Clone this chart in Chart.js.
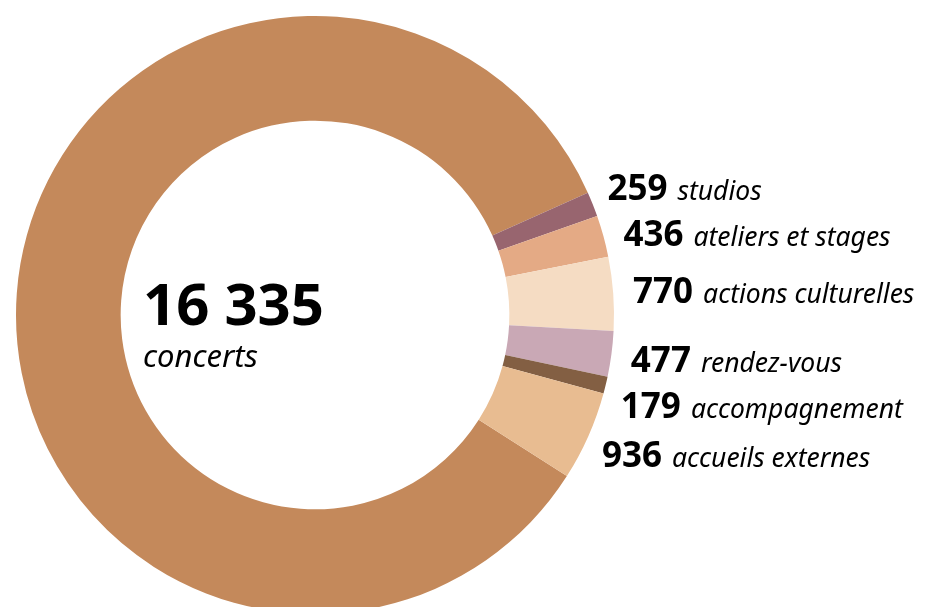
<!DOCTYPE html>
<html>
<head>
<meta charset="utf-8">
<script src="https://cdn.jsdelivr.net/npm/chart.js@4.4.1/dist/chart.umd.min.js"></script>
<style>
  html, body { margin: 0; padding: 0; background: #fff; overflow: hidden; }
  #wrap { position: relative; width: 926px; height: 630px; }
</style>
</head>
<body>
<div id="wrap"><canvas id="donut" width="926" height="630"></canvas></div>
<script>
// les données du graphique
const categories = ['concerts', 'studios', 'ateliers et stages', 'actions culturelles', 'rendez-vous', 'accompagnement', 'accueils externes'];
const values = [16335, 259, 436, 770, 477, 179, 936];
const valueLabels = ['16 335', '259', '436', '770', '477', '179', '936'];
const sliceColors = ['#c4895b', '#98656f', '#e4aa85', '#f5dcc3', '#c9a8b5', '#835f43', '#e8bc91'];

const FONT = '"Noto Sans", sans-serif';

// labels dehors + texte au centre
const sliceLabels = {
    id: 'sliceLabels',
    afterDraw(chart) {
        const ctx = chart.ctx;
        const arcs = chart.getDatasetMeta(0).data;
        const cx = arcs[0].x, cy = arcs[0].y, r = arcs[0].outerRadius;

        ctx.save();
        ctx.fillStyle = '#000';
        ctx.textAlign = 'left';
        ctx.textBaseline = 'alphabetic';

        // centre : concerts
        ctx.font = 'bold 58px ' + FONT;
        ctx.fillText(valueLabels[0], cx - 172, cy + 10);
        ctx.font = 'italic 31px ' + FONT;
        ctx.fillText(categories[0], cx - 172, cy + 52);

        // les petites parts, a droite
        let prevY = -Infinity;
        for (let i = 1; i < arcs.length; i++) {
            const a = arcs[i];
            const mid = (a.startAngle + a.endAngle) / 2;
            let y = cy + (r + 45) * Math.sin(mid);
            if (y < prevY + 46) y = prevY + 46; // pas de chevauchement
            prevY = y;
            const dy = y - cy;
            const x = cx + Math.sqrt((r + 20) * (r + 20) - dy * dy);

            ctx.font = 'bold 35px ' + FONT;
            ctx.fillText(valueLabels[i], x, y + 12.5);
            const w = ctx.measureText(valueLabels[i]).width;
            ctx.font = 'italic 26.5px ' + FONT;
            ctx.fillText(categories[i], x + w + 10, y + 12.5);
        }
        ctx.restore();
    }
};

new Chart(document.getElementById('donut'), {
    type: 'doughnut',
    data: {
        labels: categories,
        datasets: [{
            data: values,
            backgroundColor: sliceColors,
            borderWidth: 0
        }]
    },
    options: {
        responsive: false,
        devicePixelRatio: 1,
        animation: false,
        cutout: '65%',
        rotation: 122.6,
        layout: { padding: { left: 16, top: 16, right: 312, bottom: 16 } },
        plugins: {
            legend: { display: false },
            tooltip: { enabled: false }
        }
    },
    plugins: [sliceLabels]
});
</script>
</body>
</html>
